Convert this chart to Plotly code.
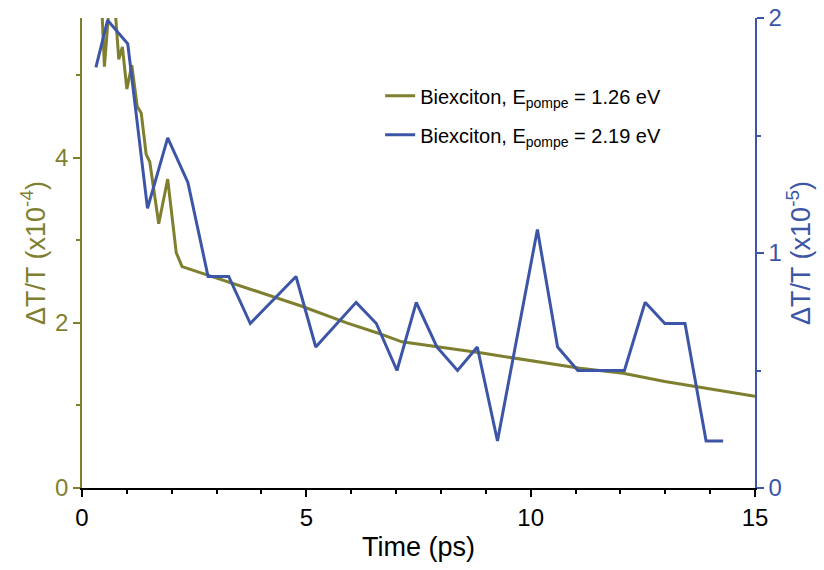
import plotly.graph_objects as go

# Biexciton decay, pump energy 1.26 eV (left axis, x1e-4)
t_126 = [0.41, 0.50, 0.67, 0.82, 0.90, 1.00, 1.11, 1.23, 1.32, 1.43, 1.51,
         1.71, 1.91, 2.10, 2.23, 4.90, 5.90, 6.57, 7.13, 7.91, 8.95, 11.10,
         12.06, 12.99, 15.0]
dt_126 = [6.2, 5.10, 6.3, 5.19, 5.34, 4.83, 5.12, 4.62, 4.54, 4.04, 3.95,
          3.20, 3.74, 2.85, 2.68, 2.20, 2.00, 1.88, 1.77, 1.71, 1.63, 1.45,
          1.39, 1.29, 1.11]

# Biexciton decay, pump energy 2.19 eV (right axis, x1e-5)
t_219 = [0.31, 0.57, 1.02, 1.46, 1.91, 2.36, 2.81, 3.27, 3.75, 4.77, 5.21,
         6.11, 6.56, 7.02, 7.45, 7.91, 8.37, 8.81, 9.26, 10.15, 10.60, 11.05,
         12.09, 12.55, 12.99, 13.44, 13.91, 14.29]
dt_219 = [1.79, 1.99, 1.89, 1.19, 1.49, 1.30, 0.90, 0.90, 0.70, 0.90, 0.60,
          0.79, 0.70, 0.50, 0.79, 0.60, 0.50, 0.60, 0.20, 1.10, 0.60, 0.50,
          0.50, 0.79, 0.70, 0.70, 0.20, 0.20]

name_126 = "Biexciton, E<sub>pompe</sub> = 1.26 eV"
name_219 = "Biexciton, E<sub>pompe</sub> = 2.19 eV"

OLIVE = "#7f7f30"
BLUE = "#3d55a6"
FONT = "Arial, Liberation Sans, sans-serif"
TICKFONT = "Liberation Sans Narrow, Arial Narrow, Arial, sans-serif"

fig = go.Figure()
fig.add_trace(go.Scatter(x=t_126, y=dt_126, mode="lines", name=name_126,
                         line=dict(color=OLIVE, width=3), yaxis="y",
                         legendgroup="a"))
fig.add_trace(go.Scatter(x=t_219, y=dt_219, mode="lines", name=name_219,
                         line=dict(color=BLUE, width=3), yaxis="y2",
                         legendgroup="b"))

fig.update_layout(
    width=824, height=570,
    margin=dict(l=82, r=69, t=18, b=82),
    paper_bgcolor="white", plot_bgcolor="white",
    font=dict(family=FONT, size=18, color="black"),
    showlegend=True,
    legend=dict(x=0.443, y=0.876, xanchor="left", yanchor="top",
                bgcolor="rgba(0,0,0,0)",
                font=dict(family=FONT, size=20, color="black"),
                tracegroupgap=10),
    xaxis=dict(range=[0, 15], showgrid=False, zeroline=False,
               automargin=False,
               showline=True, linecolor="black", linewidth=1.5,
               ticks="outside", ticklen=7, tickwidth=1.5, tickcolor="black",
               tickmode="linear", tick0=0, dtick=5,
               minor=dict(ticks="outside", ticklen=4, dtick=1,
                          tickcolor="black", tickwidth=1.5),
               tickfont=dict(family=TICKFONT, size=24, color="black"),
               title=dict(text="Time (ps)",
                          font=dict(family=FONT, size=27, color="black"),
                          standoff=8)),
    xaxis2=dict(range=[0, 15], overlaying="x", side="top", showgrid=False,
                automargin=False,
                zeroline=False, showline=True, linecolor="#222222",
                linewidth=2, ticks="inside", ticklen=3, tickcolor="#222222",
                tickmode="linear", tick0=0, dtick=2.5,
                showticklabels=False),
    yaxis=dict(range=[0, 5.69], showgrid=False, zeroline=False,
               automargin=False,
               showline=True, linecolor=OLIVE, linewidth=1.5,
               ticks="outside", ticklen=7, tickwidth=1.5, tickcolor=OLIVE,
               tickmode="linear", tick0=0, dtick=2,
               minor=dict(ticks="outside", ticklen=4, dtick=1,
                          tickcolor=OLIVE, tickwidth=1.5),
               tickfont=dict(family=TICKFONT, size=24, color=OLIVE),
               title=dict(text="ΔT/T (x10<sup>-4</sup>)",
                          font=dict(family=FONT, size=27, color=OLIVE),
                          standoff=2)),
    yaxis2=dict(range=[0, 2], overlaying="y", side="right", showgrid=False,
                automargin=False,
                zeroline=False, showline=True, linecolor=BLUE, linewidth=1.5,
                ticks="outside", ticklen=7, tickwidth=1.5, tickcolor=BLUE,
                tickmode="linear", tick0=0, dtick=1,
                minor=dict(ticks="outside", ticklen=4, dtick=0.5,
                           tickcolor=BLUE, tickwidth=1.5),
                tickfont=dict(family=TICKFONT, size=24, color=BLUE),
                title=dict(text="ΔT/T (x10<sup>-5</sup>)",
                           font=dict(family=FONT, size=27, color=BLUE),
                           standoff=8)),
)

fig.write_html("out.html")
